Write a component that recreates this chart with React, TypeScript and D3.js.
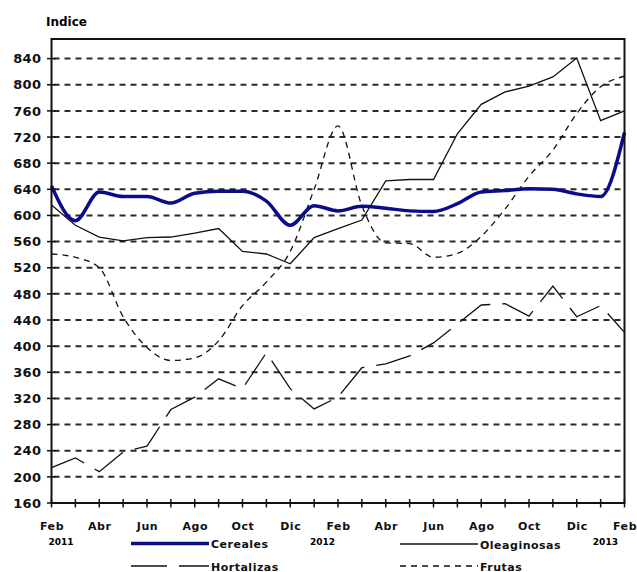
import React, { useEffect, useRef } from "react";
import * as d3 from "d3";

// month index 0 = Feb 2011 ... 24 = Feb 2013
const monthIdx = d3.range(25);
const monthLabels = ["Feb", "Abr", "Jun", "Ago", "Oct", "Dic", "Feb", "Abr", "Jun", "Ago", "Oct", "Dic", "Feb"];
const yearLabels = ["2011", "2012", "2013"];
const yTicks = [160, 200, 240, 280, 320, 360, 400, 440, 480, 520, 560, 600, 640, 680, 720, 760, 800, 840];

const cereales = [645, 592, 636, 629, 629, 619, 634, 637, 637, 622, 585, 615, 607, 614, 611, 607, 606, 618, 636, 638, 641, 640, 633, 629, 727];
const oleaginosas = [616, 585, 567, 561, 566, 567, 573, 580, 545, 541, 526, 566, 580, 593, 653, 655, 655, 725, 770, 789, 798, 812, 841, 745, 760];
const hortalizas = [214, 229, 208, 238, 247, 303, 322, 350, 335, 390, 335, 304, 322, 367, 373, 385, 405, 434, 463, 465, 446, 492, 445, 462, 421];
const frutas = [541, 536, 520, 445, 398, 378, 382, 408, 462, 498, 545, 640, 737, 615, 558, 557, 536, 542, 568, 610, 660, 700, 756, 797, 813];

const FONT = "'DejaVu Sans', sans-serif";

export default function App() {
  const ref = useRef<SVGSVGElement | null>(null);

  useEffect(() => {
    const svg = d3.select(ref.current);
    svg.selectAll("*").remove();

    const left = 51.5, right = 624.5, top = 39, bottom = 503;
    const x = d3.scaleLinear().domain([0, 24]).range([left, right]);
    const y = d3.scaleLinear().domain([160, 870]).range([bottom, top]);

    svg.append("rect").attr("width", 637).attr("height", 572).attr("fill", "#fff");

    // "Indice" title
    svg.append("text")
      .attr("x", 46).attr("y", 26)
      .style("font-family", FONT).style("font-size", "12px").style("font-weight", "bold")
      .text("Indice");

    // grid
    svg.append("g").selectAll("line")
      .data(yTicks.filter((t) => t > 160))
      .enter().append("line")
      .attr("x1", left + 2).attr("x2", right)
      .attr("y1", (d) => y(d)).attr("y2", (d) => y(d))
      .attr("stroke", "#2a2a2a").attr("stroke-width", 2)
      .attr("stroke-dasharray", "6,5");

    // series
    const line = (curve: d3.CurveFactory) =>
      d3.line<number>().x((_, i) => x(monthIdx[i])).y((d) => y(d)).curve(curve);

    svg.append("path").datum(frutas)
      .attr("d", line(d3.curveMonotoneX))
      .attr("fill", "none").attr("stroke", "#111").attr("stroke-width", 1.3)
      .attr("stroke-dasharray", "6,5");

    svg.append("path").datum(hortalizas)
      .attr("d", line(d3.curveLinear))
      .attr("fill", "none").attr("stroke", "#111").attr("stroke-width", 1.3)
      .attr("stroke-dasharray", "36,12");

    svg.append("path").datum(oleaginosas)
      .attr("d", line(d3.curveLinear))
      .attr("fill", "none").attr("stroke", "#111").attr("stroke-width", 1.3);

    svg.append("path").datum(cereales)
      .attr("d", line(d3.curveMonotoneX))
      .attr("fill", "none").attr("stroke", "#0b0b8c").attr("stroke-width", 3.5)
      .attr("stroke-linejoin", "round");

    // frame
    svg.append("rect")
      .attr("x", left).attr("y", top)
      .attr("width", right - left).attr("height", bottom - top)
      .attr("fill", "none").attr("stroke", "#111").attr("stroke-width", 2);

    // y axis
    const yAxisG = svg.append("g")
      .attr("transform", `translate(${left},0)`)
      .call(d3.axisLeft(y).tickValues(yTicks).tickSize(0).tickPadding(10));
    yAxisG.select(".domain").remove();
    yAxisG.selectAll("text")
      .style("font-family", FONT).style("font-size", "13px").style("font-weight", "bold")
      .style("letter-spacing", "0.4px").attr("fill", "#111");
    svg.append("g").selectAll("line")
      .data(yTicks)
      .enter().append("line")
      .attr("x1", left - 4.5).attr("x2", left + 4)
      .attr("y1", (d) => y(d)).attr("y2", (d) => y(d))
      .attr("stroke", "#111").attr("stroke-width", 1.5);

    // x axis
    const xAxisG = svg.append("g")
      .attr("transform", `translate(0,${bottom})`)
      .call(
        d3.axisBottom(x)
          .tickValues(monthIdx.filter((m) => m % 2 === 0))
          .tickFormat((_, i) => monthLabels[i])
          .tickSize(0)
          .tickPadding(19)
      );
    xAxisG.select(".domain").remove();
    xAxisG.selectAll("text")
      .style("font-family", FONT).style("font-size", "11px").style("font-weight", "bold")
      .style("letter-spacing", "0.6px").attr("fill", "#111");
    svg.append("g").selectAll("line")
      .data(monthIdx)
      .enter().append("line")
      .attr("x1", (d) => x(d)).attr("x2", (d) => x(d))
      .attr("y1", bottom - 4).attr("y2", bottom + 4.5)
      .attr("stroke", "#111").attr("stroke-width", 1.5);

    // year labels
    const yearPos = [0.4, 11.35, 23.2];
    svg.append("g").selectAll("text")
      .data(yearLabels)
      .enter().append("text")
      .attr("x", (_, i) => x(yearPos[i])).attr("y", 545)
      .attr("text-anchor", "middle")
      .style("font-family", FONT).style("font-size", "9px").style("font-weight", "bold")
      .text((d) => d);

    // legend
    const legend = [
      { name: "Cereales", x: 131, y: 543.5, color: "#0b0b8c", width: 3.5, dash: "none" },
      { name: "Oleaginosas", x: 400, y: 544, color: "#111", width: 1.3, dash: "none" },
      { name: "Hortalizas", x: 131, y: 566, color: "#111", width: 1.3, dash: "36,12" },
      { name: "Frutas", x: 400, y: 566, color: "#111", width: 1.3, dash: "6,5" },
    ];
    const lg = svg.append("g").selectAll("g").data(legend).enter().append("g");
    lg.append("line")
      .attr("x1", (d) => d.x).attr("x2", (d) => d.x + 78)
      .attr("y1", (d) => d.y).attr("y2", (d) => d.y)
      .attr("stroke", (d) => d.color).attr("stroke-width", (d) => d.width)
      .attr("stroke-dasharray", (d) => d.dash);
    lg.append("text")
      .attr("x", (d) => d.x + 80).attr("y", (d) => d.y + 4.5)
      .style("font-family", FONT).style("font-size", "11px").style("font-weight", "bold")
      .style("letter-spacing", "0.5px").attr("fill", "#111")
      .text((d) => d.name);
  }, []);

  return (
    <svg
      ref={ref}
      width={637}
      height={572}
      style={{ position: "absolute", left: 0, top: 0, display: "block" }}
    />
  );
}
